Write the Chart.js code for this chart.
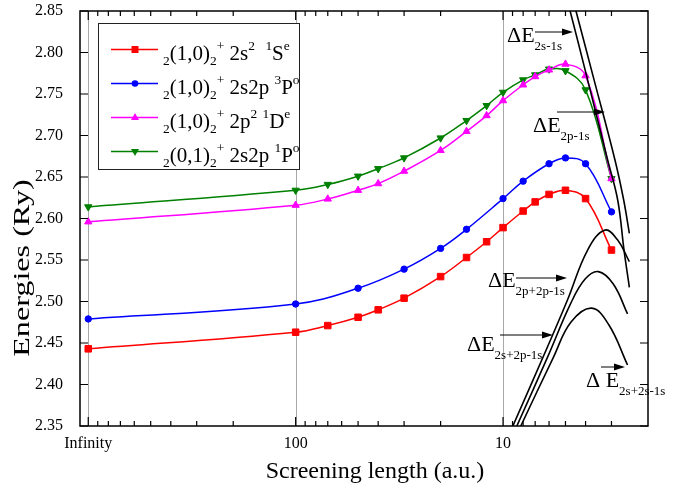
<!DOCTYPE html>
<html>
<head>
<meta charset="utf-8">
<script src="https://cdn.jsdelivr.net/npm/chart.js@4/dist/chart.umd.min.js"></script>
<style>
  html, body { margin: 0; padding: 0; background: #fff; }
</style>
</head>
<body>
<canvas id="chart" width="685" height="494"></canvas>
<script>
// tick values / labels
const xTicks = [1000, 100, 10];
const xTickLabels = ["Infinity", "100", "10"];
const yTicks = [2.35, 2.40, 2.45, 2.50, 2.55, 2.60, 2.65, 2.70, 2.75, 2.80, 2.85];

// screening lengths (Infinity is drawn at 1000)
const lambdaAll = [1000, 100, 70, 50, 40, 30, 20, 15, 12, 10, 8, 7, 6, 5, 4, 3];
const lambdaP3 = [1000, 100, 50, 30, 20, 15, 10, 8, 6, 5, 4, 3];

// energies (Ry)
const e1Se = [2.443, 2.463, 2.471, 2.481, 2.490, 2.504, 2.530, 2.553, 2.572, 2.589, 2.609, 2.620, 2.629, 2.634, 2.624, 2.562];
const e3Po = [2.479, 2.497, 2.516, 2.539, 2.564, 2.587, 2.624, 2.645, 2.666, 2.673, 2.666, 2.608];
const e1De = [2.596, 2.616, 2.6235, 2.634, 2.642, 2.657, 2.682, 2.705, 2.724, 2.742, 2.761, 2.771, 2.779, 2.786, 2.772, 2.648];
const e1Po = [2.614, 2.634, 2.641, 2.651, 2.660, 2.673, 2.697, 2.718, 2.736, 2.752, 2.767, 2.773, 2.780, 2.778, 2.755, 2.648];

// threshold curves
const dE2s1sX = [5.06, 4.76, 3.91, 3.13, 2.80, 2.61, 2.46];
const dE2s1sY = [2.875, 2.851, 2.767, 2.6705, 2.6223, 2.562, 2.517];
const dE2p1sX = [4.73, 4.46, 3.64, 2.886, 2.62, 2.46];
const dE2p1sY = [2.875, 2.851, 2.767, 2.6705, 2.6223, 2.582];
const dE2p2pX = [9.70, 8.97, 6.10, 4.89, 3.91, 3.23, 2.80, 2.46];
const dE2p2pY = [2.331, 2.350, 2.4455, 2.5018, 2.562, 2.586, 2.574, 2.548];
const dE2s2pX = [9.29, 8.58, 6.10, 4.71, 4.02, 3.47, 2.94, 2.51];
const dE2s2pY = [2.331, 2.350, 2.433, 2.498, 2.527, 2.536, 2.521, 2.485];
const dE2s2sX = [8.90, 8.21, 5.71, 4.71, 3.74, 3.09, 2.51];
const dE2s2sY = [2.331, 2.350, 2.433, 2.475, 2.492, 2.472, 2.4235];

const seriesColors = ["#ff0000", "#0000ff", "#ff00ff", "#008000"];
const legendLabels = [
  [["2","sub"],["(1,0)","n"],["2","sub"],["+","sup"],[" 2s","n"],["2","sup"],["  ","n"],["1","sup"],["S","n"],["e","sup"]],
  [["2","sub"],["(1,0)","n"],["2","sub"],["+","sup"],[" 2s2p ","n"],["3","sup"],["P","n"],["o","sup"]],
  [["2","sub"],["(1,0)","n"],["2","sub"],["+","sup"],[" 2p","n"],["2","sup"],[" ","n"],["1","sup"],["D","n"],["e","sup"]],
  [["2","sub"],["(0,1)","n"],["2","sub"],["+","sup"],[" 2s2p ","n"],["1","sup"],["P","n"],["o","sup"]]
];

// label text + arrow placement (pixels)
const notes = [
  { t: "\u0394E", sub: "2s-1s", x: 507, y: 42, a1: 535, a2: 573, ay: 32 },
  { t: "\u0394E", sub: "2p-1s", x: 533, y: 132, a1: 557, a2: 605, ay: 112 },
  { t: "\u0394E", sub: "2p+2p-1s", x: 488, y: 287, a1: 516, a2: 567, ay: 278 },
  { t: "\u0394E", sub: "2s+2p-1s", x: 467, y: 351, a1: 500, a2: 553, ay: 335 },
  { t: "\u0394 E", sub: "2s+2s-1s", x: 586, y: 387, a1: 601, a2: 625, ay: 367 }
];

const FONT = '"Liberation Serif", "Times New Roman", serif';

function pts(xs, ys) {
  return xs.map((v, i) => ({ x: v, y: ys[i] }));
}

function series(label, xs, ys, color, style, r, rot) {
  return {
    label, data: pts(xs, ys),
    borderColor: color, backgroundColor: color,
    pointBackgroundColor: color, pointBorderColor: color,
    borderWidth: 1.5, pointRadius: r, pointStyle: style,
    pointRotation: rot || 0, pointBorderWidth: 1, tension: 0.4
  };
}

function curve(xs, ys) {
  return {
    data: pts(xs, ys), borderColor: "#000", borderWidth: 1.6,
    pointRadius: 0, tension: 0.4, fill: false
  };
}

function rich(ctx, x, y, segs, size) {
  for (const [t, k] of segs) {
    const s = k === "n" ? size : size * 0.64;
    ctx.font = s + "px " + FONT;
    const dy = k === "sub" ? size * 0.27 : k === "sup" ? -size * 0.46 : 0;
    ctx.fillText(t, x, y + dy);
    x += ctx.measureText(t).width;
  }
}

function marker(ctx, style, x, y, color) {
  ctx.fillStyle = color;
  ctx.beginPath();
  if (style === "rect") {
    ctx.rect(x - 3.5, y - 3.5, 7, 7);
  } else if (style === "circle") {
    ctx.arc(x, y, 3.3, 0, Math.PI * 2);
  } else if (style === "up") {
    ctx.moveTo(x, y - 4.5); ctx.lineTo(x + 4, y + 2.5); ctx.lineTo(x - 4, y + 2.5);
  } else {
    ctx.moveTo(x, y + 4.5); ctx.lineTo(x + 4, y - 2.5); ctx.lineTo(x - 4, y - 2.5);
  }
  ctx.closePath();
  ctx.fill();
}

function arrow(ctx, x1, x2, y) {
  ctx.beginPath();
  ctx.moveTo(x1, y); ctx.lineTo(x2 - 8, y);
  ctx.lineWidth = 1; ctx.strokeStyle = "#000"; ctx.stroke();
  ctx.beginPath();
  ctx.moveTo(x2, y); ctx.lineTo(x2 - 11, y - 3.5); ctx.lineTo(x2 - 11, y + 3.5);
  ctx.closePath(); ctx.fillStyle = "#000"; ctx.fill();
}

const decor = {
  id: "decor",
  beforeDatasetsDraw(chart) {
    const { ctx, chartArea: a, scales: { x } } = chart;
    ctx.save();
    ctx.strokeStyle = "#a8a8a8";
    ctx.lineWidth = 1;
    xTicks.forEach(v => {
      const px = Math.round(x.getPixelForValue(v)) + 0.5;
      ctx.beginPath(); ctx.moveTo(px, a.top); ctx.lineTo(px, a.bottom); ctx.stroke();
    });
    ctx.restore();
  },
  afterDatasetsDraw(chart) {
    const { ctx, chartArea: a, scales: { x, y } } = chart;
    ctx.save();
    ctx.strokeStyle = "#000";
    ctx.lineWidth = 1.5;
    ctx.strokeRect(a.left, a.top, a.right - a.left, a.bottom - a.top);

    // x ticks, major + minor, bottom and top, pointing in
    const minor = [];
    [100, 10, 1].forEach(d => { for (let k = 9; k >= 2; k--) minor.push(k * d); });
    ctx.lineWidth = 1.2;
    const tick = (px, len) => {
      ctx.beginPath();
      ctx.moveTo(px, a.bottom); ctx.lineTo(px, a.bottom - len);
      ctx.moveTo(px, a.top); ctx.lineTo(px, a.top + len);
      ctx.stroke();
    };
    xTicks.forEach(v => tick(x.getPixelForValue(v), 9));
    minor.forEach(v => { const px = x.getPixelForValue(v); if (px < a.right - 1) tick(px, 5); });
    yTicks.forEach(v => {
      const py = y.getPixelForValue(v);
      ctx.beginPath();
      ctx.moveTo(a.left, py); ctx.lineTo(a.left + 8, py);
      ctx.moveTo(a.right, py); ctx.lineTo(a.right - 8, py);
      ctx.stroke();
    });

    // legend
    ctx.fillStyle = "#fff";
    ctx.fillRect(98, 23, 201, 146);
    ctx.lineWidth = 1;
    ctx.strokeStyle = "#222";
    ctx.strokeRect(98.5, 23.5, 201, 146);
    const styles = ["rect", "circle", "up", "down"];
    legendLabels.forEach((segs, i) => {
      const ly = 49.5 + i * 34;
      ctx.strokeStyle = seriesColors[i];
      ctx.lineWidth = 1.5;
      ctx.beginPath(); ctx.moveTo(111, ly); ctx.lineTo(158, ly); ctx.stroke();
      marker(ctx, styles[i], 135, ly, seriesColors[i]);
      ctx.fillStyle = "#000";
      ctx.textAlign = "left";
      ctx.textBaseline = "alphabetic";
      rich(ctx, 163, ly + 10, segs, 21);
    });

    // delta E labels
    notes.forEach(n => {
      ctx.fillStyle = "#000";
      ctx.textAlign = "left";
      ctx.textBaseline = "alphabetic";
      ctx.font = "22px " + FONT;
      ctx.fillText(n.t, n.x, n.y);
      const w = ctx.measureText(n.t).width;
      ctx.font = "13px " + FONT;
      ctx.fillText(n.sub, n.x + w, n.y + 8);
      arrow(ctx, n.a1, n.a2, n.ay);
    });

    // axis titles
    ctx.fillStyle = "#000";
    ctx.font = "24px " + FONT;
    ctx.textAlign = "center";
    ctx.fillText("Screening length (a.u.)", 375, 478);
    ctx.translate(29, 268);
    ctx.rotate(-Math.PI / 2);
    ctx.scale(1.34, 1);
    ctx.fillText("Energies (Ry)", 0, 0);
    ctx.restore();
  }
};

const tickFont = { family: FONT, size: 16 };

new Chart(document.getElementById("chart"), {
  type: "line",
  data: {
    datasets: [
      curve(dE2s1sX, dE2s1sY),
      curve(dE2p1sX, dE2p1sY),
      curve(dE2p2pX, dE2p2pY),
      curve(dE2s2pX, dE2s2pY),
      curve(dE2s2sX, dE2s2sY),
      series("1Se", lambdaAll, e1Se, seriesColors[0], "rect", 4.6),
      series("3Po", lambdaP3, e3Po, seriesColors[1], "circle", 3.2),
      series("1De", lambdaAll, e1De, seriesColors[2], "triangle", 4.2),
      series("1Po", lambdaAll, e1Po, seriesColors[3], "triangle", 4.2, 180)
    ]
  },
  options: {
    responsive: false,
    animation: false,
    events: [],
    layout: { padding: { top: 11, right: 37, left: 0, bottom: 0 } },
    plugins: { legend: { display: false }, tooltip: { enabled: false } },
    scales: {
      x: {
        type: "logarithmic",
        reverse: true,
        min: 2,
        max: 1096,
        afterBuildTicks: s => { s.ticks = xTicks.map(v => ({ value: v })); },
        afterFit: s => { s.height = 68; s.paddingLeft = 0; s.paddingRight = 0; },
        grid: { display: false, drawTicks: false },
        border: { display: false },
        ticks: {
          callback: v => xTickLabels[xTicks.indexOf(v)],
          font: tickFont, color: "#000", padding: 8,
          maxRotation: 0, autoSkip: false
        }
      },
      y: {
        type: "linear",
        min: 2.35,
        max: 2.85,
        afterBuildTicks: s => { s.ticks = yTicks.map(v => ({ value: v })); },
        afterFit: s => { s.width = 80; s.paddingTop = 0; s.paddingBottom = 0; },
        grid: { display: false, drawTicks: false },
        border: { display: false },
        ticks: {
          callback: v => v.toFixed(2),
          font: tickFont, color: "#000", padding: 17
        }
      }
    }
  },
  plugins: [decor]
});
</script>
</body>
</html>
